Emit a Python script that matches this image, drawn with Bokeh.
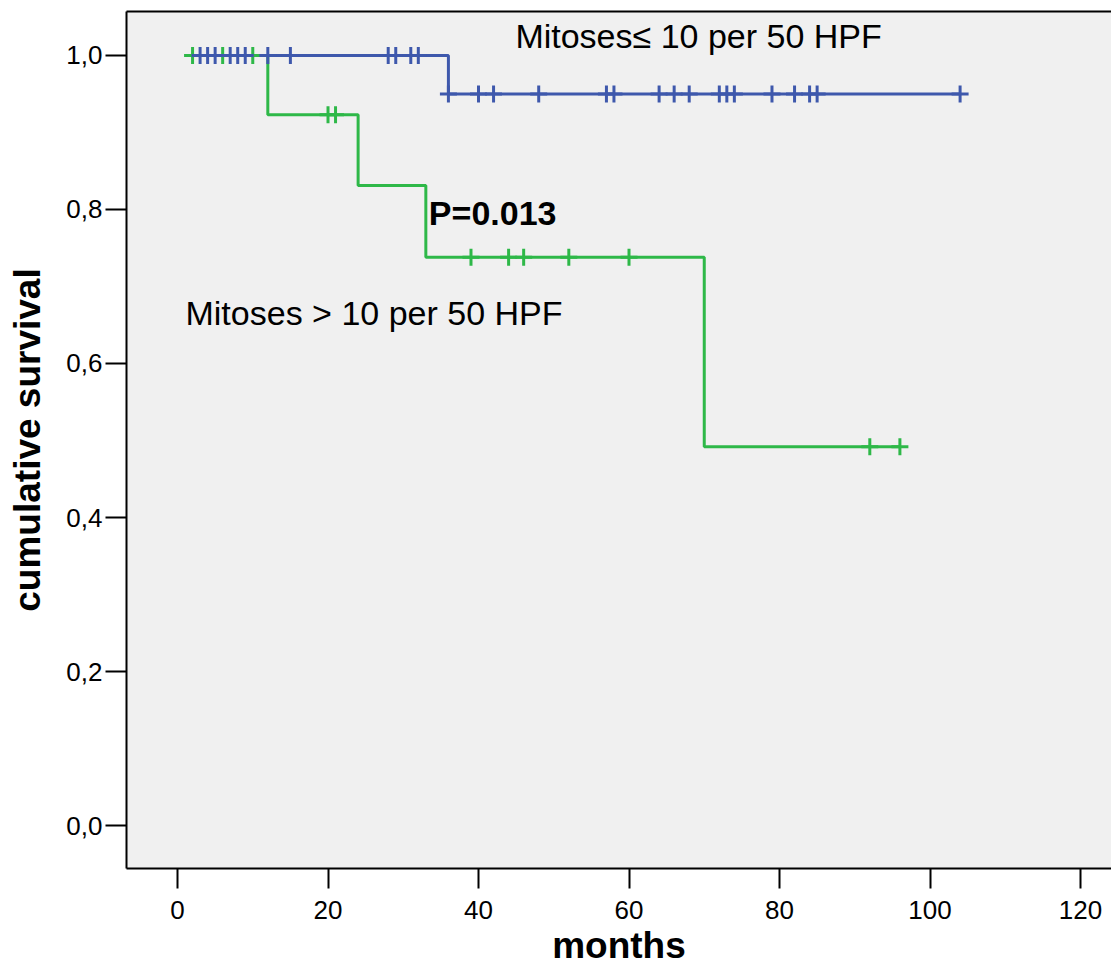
import numpy as np
from bokeh.plotting import figure
from bokeh.models import Range1d, FixedTicker, Label, LinearAxis
from bokeh.embed import file_html
from bokeh.resources import INLINE

# ---------------- data ----------------
x_ticks = [0, 20, 40, 60, 80, 100, 120]
y_ticks = [0.0, 0.2, 0.4, 0.6, 0.8, 1.0]
y_tick_labels = ["0,0", "0,2", "0,4", "0,6", "0,8", "1,0"]

# Mitoses <= 10 per 50 HPF (blue)
low_event_times = [36]
low_survival = [0.95]
low_censored = [3, 4, 5, 7, 8, 9, 12, 15, 28, 29, 31, 32, 36, 40, 42, 48, 57, 58,
                64, 66, 68, 72, 73, 74, 79, 82, 84, 85, 104]

# Mitoses > 10 per 50 HPF (green)
high_event_times = [12, 24, 33, 70]
high_survival = [0.923, 0.831, 0.738, 0.492]
high_censored = [2, 6, 10, 20, 21, 39, 44, 46, 52, 60, 92, 96]

label_low = "Mitoses\u2264 10 per 50 HPF"
label_high = "Mitoses > 10 per 50 HPF"
label_p = "P=0.013"
x_title = "months"
y_title = "cumulative survival"

BLUE = "#3E58AC"
GREEN = "#2EB848"
FONT = "Liberation Sans"


def km_step(event_times, survival, censored):
    t0 = min(censored + event_times)
    t1 = max(censored + event_times)
    xs = [t0] + list(event_times) + [t1]
    ys = [1.0] + list(survival) + [survival[-1]]
    return xs, ys


def censor_y(event_times, survival, censored):
    et = np.array(event_times, dtype=float)
    sv = np.concatenate([[1.0], np.array(survival, dtype=float)])
    idx = np.searchsorted(et, np.array(censored, dtype=float), side="right")
    return sv[idx].tolist()


p = figure(width=1111, height=968, output_backend="svg", toolbar_location=None,
           x_range=Range1d(-6.78, 124.12), y_range=Range1d(-0.0558, 1.0571),
           min_border_left=126, min_border_right=0, min_border_top=11,
           min_border_bottom=100)

p.background_fill_color = "#F0F0F0"
p.border_fill_color = "white"
p.outline_line_color = None
p.xgrid.visible = False
p.ygrid.visible = False

# axes
for ax in (p.xaxis[0], p.yaxis[0]):
    ax.axis_line_color = "black"
    ax.axis_line_width = 2
    ax.major_tick_line_color = "black"
    ax.major_tick_line_width = 2
    ax.major_tick_in = 0
    ax.minor_tick_line_color = None
    ax.major_label_text_font = FONT
    ax.major_label_text_font_size = "26px"
    ax.major_label_text_color = "black"
    ax.axis_label_text_font = FONT
    ax.axis_label_text_font_size = "37px"
    ax.axis_label_text_font_style = "bold"
    ax.axis_label_text_color = "black"

p.xaxis.ticker = FixedTicker(ticks=x_ticks)
p.yaxis.ticker = FixedTicker(ticks=y_ticks)
p.yaxis.major_label_overrides = {t: l for t, l in zip(y_ticks, y_tick_labels)}
p.xaxis.major_tick_out = 20
p.yaxis.major_tick_out = 21
p.xaxis.major_label_standoff = 12
p.yaxis.major_label_standoff = 3
p.xaxis.axis_label = x_title
p.yaxis.axis_label = y_title
p.xaxis.axis_label_standoff = 3
p.yaxis.axis_label_standoff = 15

top_axis = LinearAxis(ticker=FixedTicker(ticks=[]), axis_line_color="black",
                      axis_line_width=2, major_tick_line_color=None,
                      minor_tick_line_color=None, major_label_text_font_size="0px")
p.add_layout(top_axis, "above")

# curves
hx, hy = km_step(high_event_times, high_survival, high_censored)
lx, ly = km_step(low_event_times, low_survival, low_censored)
p.step(hx, hy, mode="after", line_color=GREEN, line_width=3)
p.step(lx, ly, mode="after", line_color=BLUE, line_width=3)

p.scatter(high_censored, censor_y(high_event_times, high_survival, high_censored),
          marker="cross", size=17, line_width=3, line_color=GREEN)
p.scatter(low_censored, censor_y(low_event_times, low_survival, low_censored),
          marker="cross", size=17, line_width=3, line_color=BLUE)

# annotations
p.add_layout(Label(x=44.9, y=1.0247, text=label_low, text_font=FONT,
                   text_font_size="34px", text_color="black",
                   text_baseline="alphabetic", text_align="left"))
p.add_layout(Label(x=1.06, y=0.665, text=label_high, text_font=FONT,
                   text_font_size="34px", text_color="black",
                   text_baseline="alphabetic", text_align="left"))
p.add_layout(Label(x=33.4, y=0.796, text=label_p, text_font=FONT,
                   text_font_size="34px", text_font_style="bold", text_color="black",
                   text_baseline="alphabetic", text_align="left"))

open("out.html", "w").write(file_html(p, INLINE))
